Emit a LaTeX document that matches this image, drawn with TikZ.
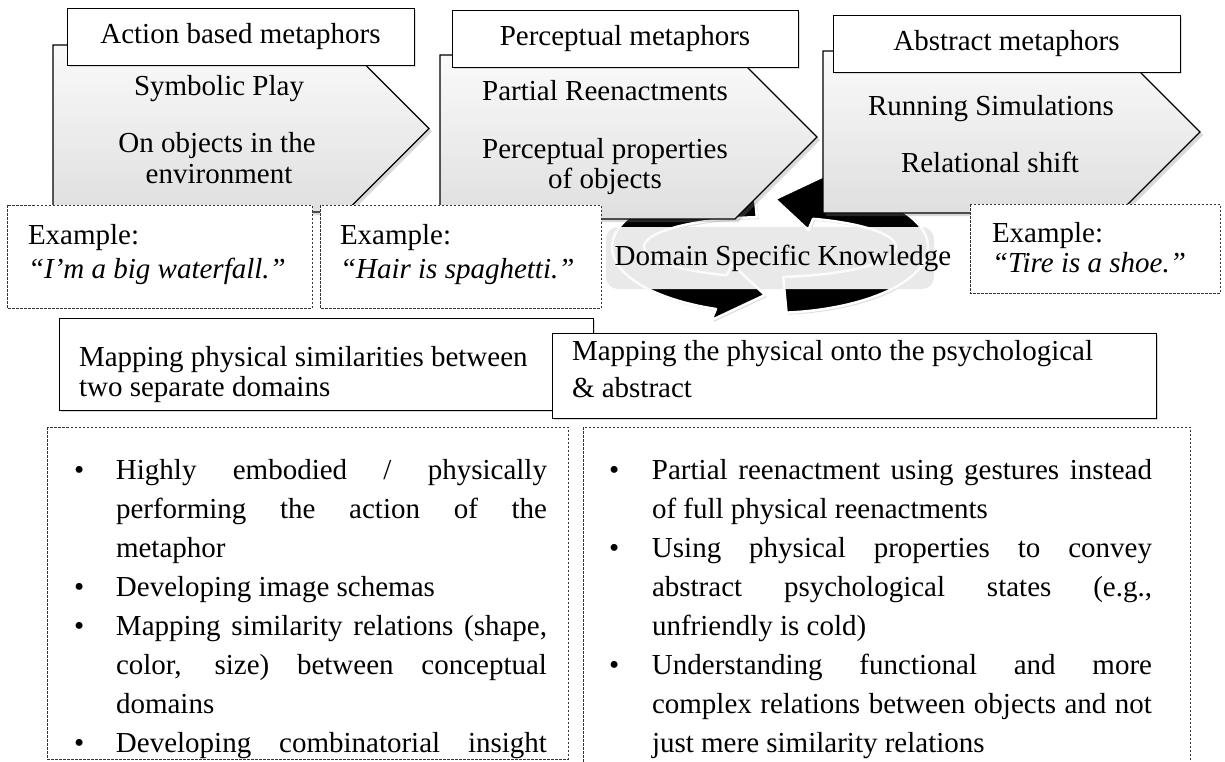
\documentclass[tikz,border=0pt]{standalone}
\usepackage{fontspec}
\setmainfont{Liberation Serif}
\usetikzlibrary{shadows}

% bullet paragraph with hanging indent
\newcommand\bulletpar[2]{\par\hangindent=#1\hangafter=1\noindent\makebox[#1][l]{\strut\textbullet}#2\par}

% the two curved arrows of the knowledge cycle
% centre (770,247); centre line radii 142 x 48; body half-width 16 x 18; head half-width 30 x 30
\newcommand\ringpathA{plot[variable=\t, domain=-84:70, samples=60] ({770+158*cos(\t)},{247-66*sin(\t)})
  -- ({770+172*cos(70)},{247-78*sin(70)})
  -- ({770+142*cos(88)},{247-48*sin(88)})
  -- ({770+112*cos(70)},{247-18*sin(70)})
  -- plot[variable=\t, domain=70:-84, samples=60] ({770+126*cos(\t)},{247-30*sin(\t)})
  -- cycle}
\newcommand\ringpathB{plot[variable=\t, domain=96:250, samples=60] ({770+158*cos(\t)},{247-66*sin(\t)})
  -- ({770+172*cos(250)},{247-78*sin(250)})
  -- ({770+142*cos(268)},{247-48*sin(268)})
  -- ({770+112*cos(250)},{247-18*sin(250)})
  -- plot[variable=\t, domain=250:96, samples=60] ({770+126*cos(\t)},{247-30*sin(\t)})
  -- cycle}

\begin{document}
\begin{tikzpicture}[x=1pt,y=-1pt,
  every node/.style={inner sep=0pt, outer sep=0pt},
  txt/.style={font=\fontsize{29}{36}\selectfont, anchor=base},
  ltxt/.style={font=\fontsize{29}{36}\selectfont, anchor=base west},
  itxt/.style={font=\fontsize{29}{36}\selectfont\itshape, anchor=base west},
  chev/.style={draw=black, line width=1.2pt, line join=miter,
    top color=gray!4, bottom color=gray!25,
    drop shadow={shadow xshift=3pt, shadow yshift=-3pt, opacity=0.3}},
  titlebox/.style={draw=black, line width=0.9pt, fill=white,
    font=\fontsize{29}{36}\selectfont, minimum height=57pt,
    drop shadow={shadow xshift=1.5pt, shadow yshift=-1.5pt, opacity=0.25}},
  dashbox/.style={draw=black!80, line width=0.9pt, dash pattern=on 2.5pt off 1.5pt, fill=white},
  mapbox/.style={draw=black, line width=0.9pt, fill=white,
    drop shadow={shadow xshift=1.5pt, shadow yshift=-1.5pt, opacity=0.3}},
  ringarrow/.style={fill=black, draw=white, line width=2.5pt, line join=round,
    drop shadow={shadow xshift=2pt, shadow yshift=-2pt, opacity=0.25}},
  ringedge/.style={draw=white, line width=2.5pt, line join=round, opacity=0.85},
  bullettext/.style={font=\fontsize{29}{39}\selectfont, anchor=north west, align=justify}
]
\useasboundingbox (0,0) rectangle (1225,761);
\clip (0,0) rectangle (1225,761);

% ---- cycle of two curved arrows (Domain Specific Knowledge) ----
\filldraw[ringarrow] \ringpathA;
\filldraw[ringarrow] \ringpathB;

% ---- three stage chevrons ----
\draw[chev] (53,45) -- (345.5,45) -- (429,128.5) -- (345.5,212) -- (53,212) -- cycle;
\draw[chev] (440,55) -- (735,55) -- (817,137) -- (735,219) -- (440,219) -- cycle;
\draw[chev] (823,51) -- (1119,51) -- (1200,132) -- (1119,213) -- (823,213) -- cycle;

% stage titles
\node[titlebox, minimum width=347pt] (title1) at (240.5,36.5) {Action based metaphors};
\node[titlebox, minimum width=346pt] (title2) at (625,38.5) {Perceptual metaphors};
\node[titlebox, minimum width=347pt] (title3) at (1006.5,43.5) {Abstract metaphors};

% stage contents
\node[txt] (s1a) at (219,95) {Symbolic Play};
\node[txt] (s1b) at (217,152) {On objects in the};
\node[txt] (s1c) at (219,183) {environment};
\node[txt] (s2a) at (605,100) {Partial Reenactments};
\node[txt] (s2b) at (605,158) {Perceptual properties};
\node[txt] (s2c) at (605,188) {of objects};
\node[txt] (s3a) at (991,115) {Running Simulations};
\node[txt] (s3b) at (990,172) {Relational shift};

% ---- example boxes ----
\draw[dashbox] (7,205) rectangle (312,308);
\node[ltxt] (ex1a) at (28,244) {Example:};
\node[itxt] (ex1b) at (28,278) {“I’m a big waterfall.”};
\draw[dashbox] (320,205) rectangle (601,308);
\node[ltxt] (ex2a) at (340,244) {Example:};
\node[itxt] (ex2b) at (340,278) {“Hair is spaghetti.”};
\draw[dashbox] (970,204) rectangle (1220,293);
\node[ltxt] (ex3a) at (992,242) {Example:};
\node[itxt] (ex3b) at (992,272) {“Tire is a shoe.”};

% label band across the cycle, the arrow edges showing through it
\fill[gray!17, rounded corners=12pt] (606,227) rectangle (934,289);
\begin{scope}
  \clip[rounded corners=12pt] (606,227) rectangle (934,289);
  \draw[ringedge] \ringpathA;
  \draw[ringedge] \ringpathB;
\end{scope}
\node[txt] (dsk) at (783,265) {Domain Specific Knowledge};

% ---- mapping descriptions ----
\draw[mapbox] (59,318) rectangle (593,410);
\node[ltxt] (mapA1) at (79,366) {Mapping physical similarities between};
\node[ltxt] (mapA2) at (79,396) {two separate domains};
\draw[mapbox] (552,333) rectangle (1156,418);
\node[ltxt] (mapB1) at (572,360) {Mapping the physical onto the psychological};
\node[ltxt] (mapB2) at (572,397) {\& abstract};

% ---- characteristics lists ----
\draw[dashbox] (47,427) rectangle (568,759);
\draw[dashbox] (583,427) rectangle (1190,800);

\node[bullettext, text width=473pt] (listL) at (74,440) {%
  \bulletpar{42pt}{Highly embodied / physically \linebreak performing the action of the \linebreak metaphor}%
  \bulletpar{42pt}{Developing image schemas}%
  \bulletpar{42pt}{Mapping similarity relations (shape, \linebreak color, size) between conceptual \linebreak domains}%
  \bulletpar{42pt}{Developing combinatorial insight\linebreak\mbox{}}};

\node[bullettext, text width=543pt] (listR) at (609,440) {%
  \bulletpar{43pt}{Partial reenactment using gestures instead \linebreak of full physical reenactments}%
  \bulletpar{43pt}{Using physical properties to convey \linebreak abstract psychological states (e.g., \linebreak unfriendly is cold)}%
  \bulletpar{43pt}{Understanding functional and more \linebreak complex relations between objects and not \linebreak just mere similarity relations}};
\end{tikzpicture}
\end{document}
